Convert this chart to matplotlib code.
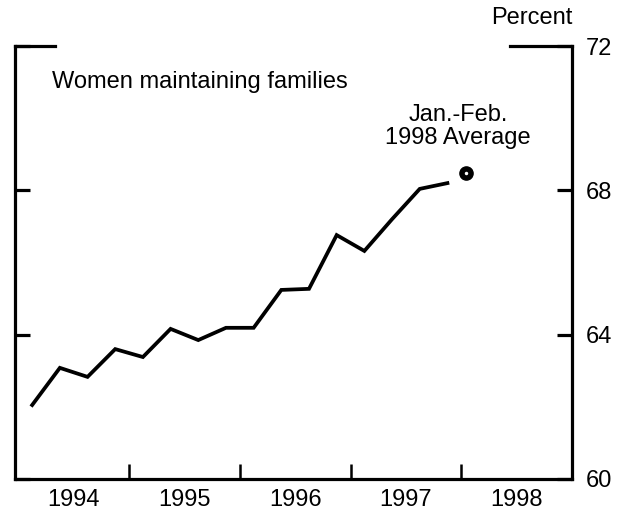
import matplotlib
matplotlib.use('Agg')
import matplotlib.pyplot as plt
from matplotlib.ticker import FixedLocator, NullFormatter

plt.rcParams['font.family'] = ['Liberation Sans', 'DejaVu Sans']

# quarterly share, women maintaining families (percent)
quarters = [1994.125, 1994.375, 1994.625, 1994.875,
            1995.125, 1995.375, 1995.625, 1995.875,
            1996.125, 1996.375, 1996.625, 1996.875,
            1997.125, 1997.375, 1997.625, 1997.875]
share = [62.05, 63.08, 62.83, 63.60,
         63.38, 64.16, 63.85, 64.19,
         64.19, 65.24, 65.27, 66.76,
         66.32, 67.20, 68.04, 68.20]

# Jan.-Feb. 1998 average
avg_x = [1998.04]
avg_y = [68.48]

years = ['1994', '1995', '1996', '1997', '1998']
year_mid = [1994.5, 1995.5, 1996.5, 1997.5, 1998.5]
year_bounds = [1995, 1996, 1997, 1998]
yticks = [60, 64, 68, 72]

fig = plt.figure(figsize=(6.28, 5.14), dpi=100)
ax = fig.add_axes([0.0239, 0.0681, 0.8869, 0.8424])

ax.plot(quarters, share, color='black', lw=2.7, solid_joinstyle='miter')
ax.plot(avg_x, avg_y, 'o', ms=9.5, mfc='black', mec='black', mew=1)
ax.plot(avg_x, avg_y, 'o', ms=2.5, mfc='white', mec='white', mew=0)

ax.set_xlim(1993.97, 1999.0)
ax.set_ylim(60, 72)

for s in ['left', 'right', 'bottom']:
    ax.spines[s].set_linewidth(2.3)
ax.spines['top'].set_visible(False)
# short corner pieces of the top frame
ax.plot([0, 0.072], [1, 1], transform=ax.transAxes, color='black', lw=2.3,
        clip_on=False, solid_capstyle='projecting')
ax.plot([0.889, 1.0], [1, 1], transform=ax.transAxes, color='black', lw=2.3,
        clip_on=False, solid_capstyle='projecting')

# x axis: ticks at year boundaries, labels centred in each year
ax.xaxis.set_major_locator(FixedLocator(year_bounds))
ax.xaxis.set_major_formatter(NullFormatter())
ax.xaxis.set_minor_locator(FixedLocator(year_mid))
ax.set_xticklabels(years, minor=True)
ax.tick_params(axis='x', which='major', direction='in', length=11, width=1.8)
ax.tick_params(axis='x', which='minor', length=0, pad=7, labelsize=17)

# y axis: inward ticks both sides, labels on the right
ax.set_yticks(yticks)
ax.yaxis.set_ticks_position('both')
ax.tick_params(axis='y', direction='in', length=11, width=2.3,
               left=True, right=True, labelleft=False, labelright=True,
               pad=10, labelsize=17)

fig.text(0.912, 0.965, 'Percent', ha='right', va='center', fontsize=17)
ax.text(0.066, 0.918, 'Women maintaining families', transform=ax.transAxes,
        ha='left', va='center', fontsize=17)
ax.text(1997.97, 69.76, 'Jan.-Feb.\n1998 Average', ha='center', va='center',
        fontsize=17, linespacing=1.05)

fig.savefig('out.png', dpi=100)
